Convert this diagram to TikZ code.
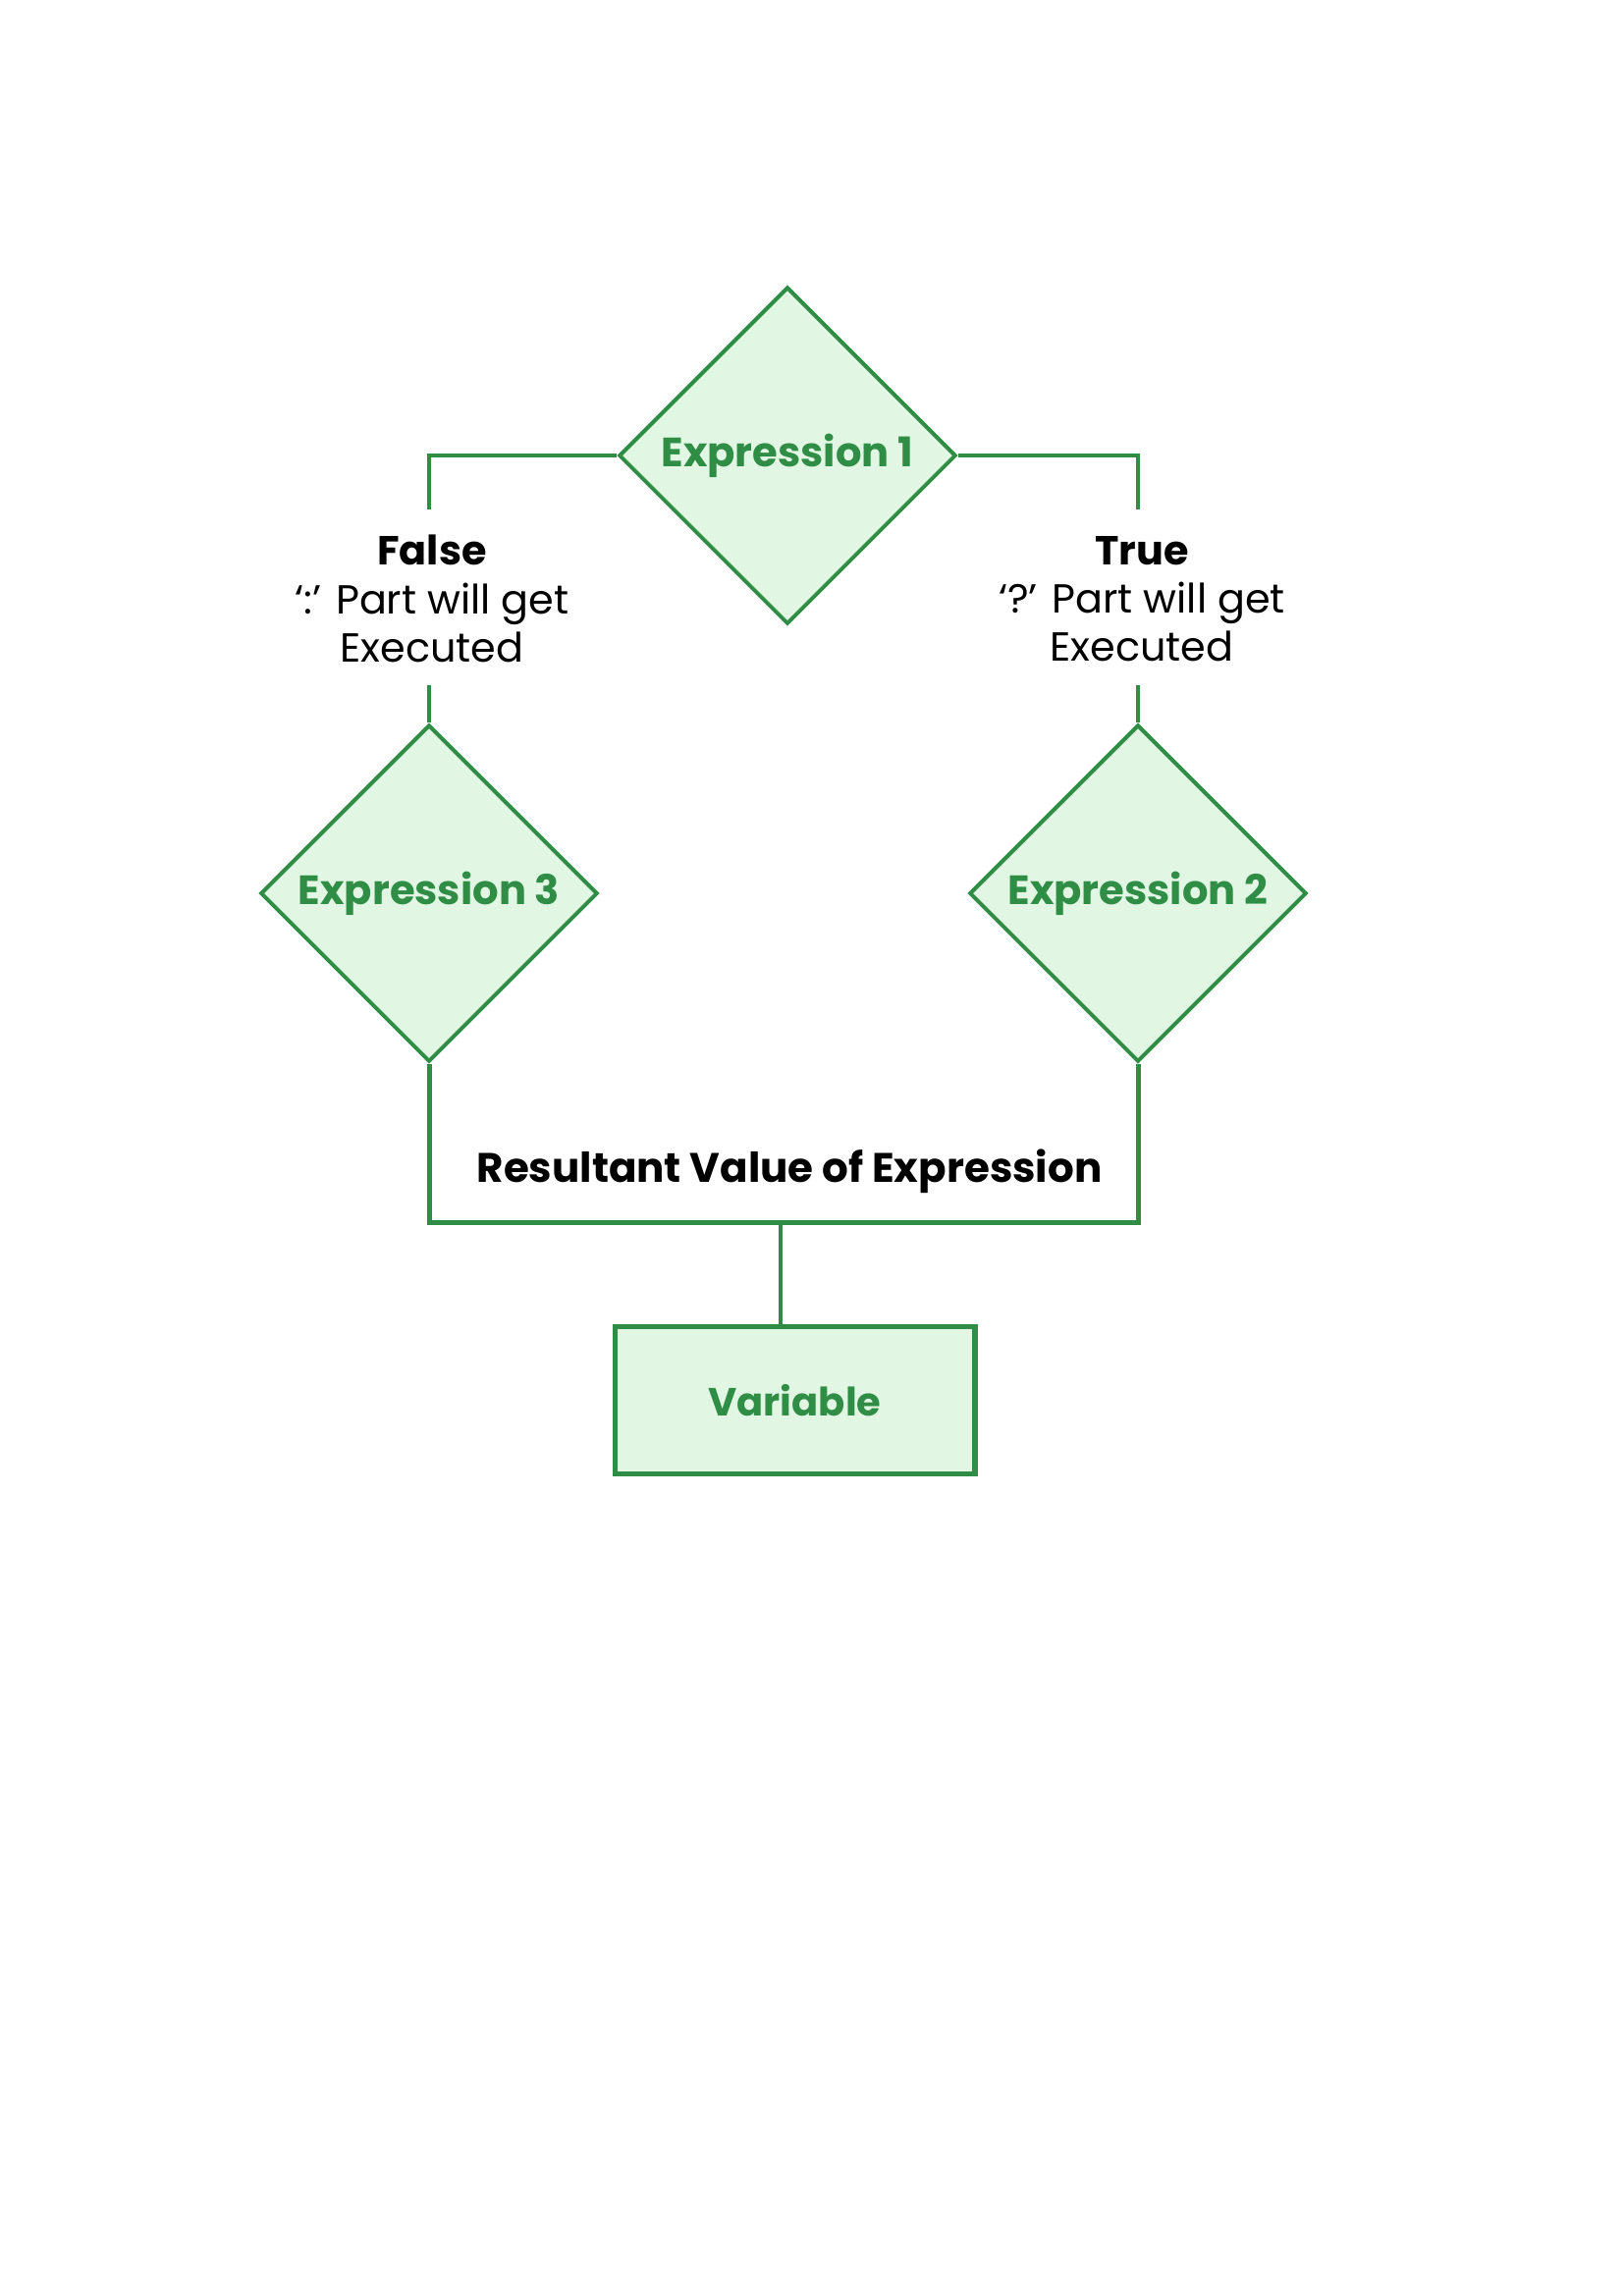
\documentclass[tikz,border=0pt]{standalone}
\usepackage{fontspec}
\setmainfont{Poppins}
\usetikzlibrary{shapes.geometric}
\definecolor{gfg}{HTML}{2F8D46}
\definecolor{gfgfill}{HTML}{E1F7E3}
\tikzset{
  dia/.style={diamond, draw=gfg, fill=gfgfill, line width=1.2pt, inner sep=0pt, aspect=1,
    minimum width=103pt, minimum height=103pt, text=gfg, font=\fontsize{12.5}{14}\selectfont\bfseries},
  varbox/.style={rectangle, draw=gfg, fill=gfgfill, line width=1.6pt, minimum width=110pt, minimum height=45pt,
    text=gfg, font=\fontsize{12}{14}\selectfont\bfseries},
  lbl/.style={align=center, font=\fontsize{12.4}{14.8}\selectfont, text=black},
  conn/.style={draw=gfg, line width=1.3pt},
  bconn/.style={draw=gfg, line width=1.5pt}
}
\begin{document}
\begin{tikzpicture}[x=0.3pt,y=-0.3pt]
\useasboundingbox (0,0) rectangle (1654,2339);
\node[dia] (e1) at (802,464) {Expression 1};
\node[dia] (e3) at (437,910) {Expression 3};
\node[dia] (e2) at (1159,910) {Expression 2};
\node[varbox] (var) at (809.5,1426.5) {Variable};
\node[lbl] (fl) at (440,610) {\textbf{False}\\‘:’ Part will get\\Executed};
\node[lbl] (tl) at (1163,610) {\textbf{True}\\‘?’ Part will get\\Executed};
\node[font=\fontsize{12.6}{14}\selectfont\bfseries] (res) at (804,1193) {Resultant Value of Expression};
\coordinate (fa) at (437,519);
\coordinate (fb) at (437,698);
\coordinate (ta) at (1159,519);
\coordinate (tb) at (1159,698);
\coordinate (jn) at (795,1245);
\draw[conn] (e1.west) -| (fa);
\draw[conn] (e1.east) -| (ta);
\draw[conn] (fb) -- (e3.north);
\draw[conn] (tb) -- (e2.north);
\draw[bconn] (e3.south) |- (jn) -| (e2.south);
\draw[conn] (jn) -- (jn |- var.north);
\end{tikzpicture}
\end{document}
